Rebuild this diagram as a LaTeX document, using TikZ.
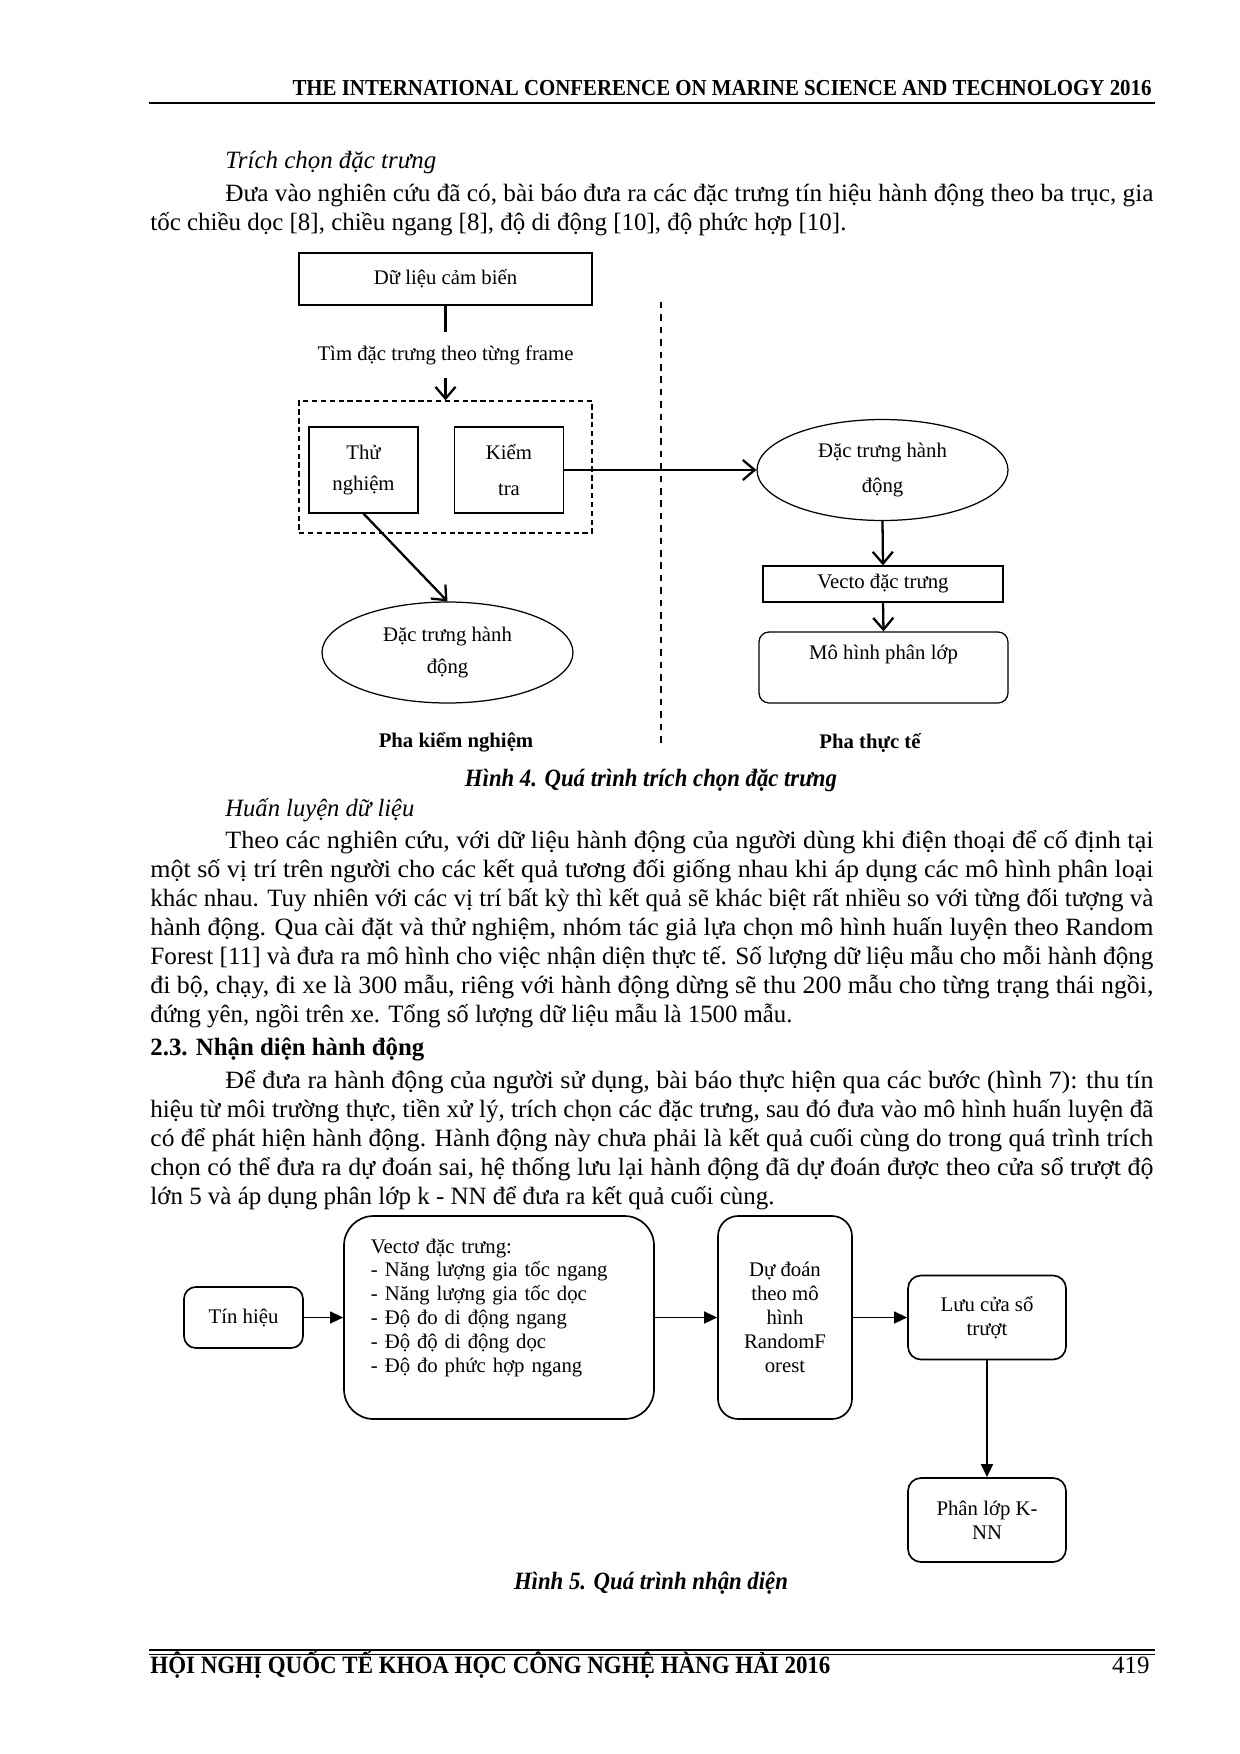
\documentclass[tikz,border=0pt]{standalone}
\usepackage{fontspec}
\setmainfont{Liberation Serif}
\usepackage{graphicx}
\usetikzlibrary{arrows.meta,shapes.geometric}

\tikzset{
  body/.style={anchor=base west,inner sep=0pt,font=\fontsize{12}{14}\selectfont},
  figtxt/.style={font=\fontsize{10}{15}\selectfont,align=center},
  plainbox/.style={draw,line width=0.6pt,inner sep=0pt,figtxt},
  grpbox/.style={draw,dash pattern=on 0.9mm off 0.6mm,line width=0.6pt,inner sep=0pt},
  oval/.style={draw,ellipse,line width=0.6pt,inner sep=0pt,figtxt},
  divider/.style={line width=1.1pt,dash pattern=on 1.1mm off 1mm},
  barb/.style={line width=1.1pt,-{Straight Barb[length=2mm,width=3.4mm]}},
  roundbox/.style={draw,line width=0.8pt,inner sep=0pt,align=center,font=\fontsize{10}{11.5}\selectfont},
  tri/.style={line width=0.9pt,-{Triangle[length=2.2mm,width=2mm]}},
}
\newcommand{\fitw}[2]{\resizebox{#1}{\height}{#2}}

\begin{document}
\begin{tikzpicture}[x=0.169355mm,y=-0.169355mm]
\fill[white] (0,0) rectangle (1240,1754);
\useasboundingbox (0,0) rectangle (1240,1754);

\node[anchor=base east,inner sep=0pt,font=\fontsize{11}{13}\selectfont\bfseries] (head) at (1152,95.5)
  {\fitw{145.48mm}{THE INTERNATIONAL CONFERENCE ON MARINE SCIENCE AND TECHNOLOGY 2016}};
\draw[line width=1pt] (149,103) -- (1155,103);

\node[body] (t1) at (225,168) {\fitw{35.73mm}{\itshape Trích chọn đặc trưng}};
\node[body] (t2) at (225,201.5) {\fitw{157.16mm}{Đưa vào nghiên cứu đã có, bài báo đưa ra các đặc trưng tín hiệu hành động theo ba trục, gia}};
\node[body] (t3) at (150,230.6) {\fitw{117.87mm}{tốc chiều dọc [8], chiều ngang [8], độ di động [10], độ phức hợp [10].}};

\node[plainbox,minimum width=49.62mm,minimum height=8.81mm] (data) at (445.5,279) {Dữ liệu cảm biến};
\node[figtxt,inner sep=0pt,minimum height=7.79mm] (find) at (445.5,355) {Tìm đặc trưng theo từng frame};
\node[grpbox,minimum width=49.62mm,minimum height=22.35mm] (grp) at (445.5,467) {};
\node[plainbox,minimum width=18.46mm,minimum height=14.56mm] (try) at (363.5,470) {Thử\\nghiệm};
\node[plainbox,minimum width=18.46mm,minimum height=14.56mm,font=\fontsize{10}{17}\selectfont] (test) at (509,470) {Kiểm\\tra};
\node[oval,minimum width=42.51mm,minimum height=17.1mm] (feata) at (447.5,652.5) {Đặc trưng hành\\động};
\node[oval,minimum width=42.51mm,minimum height=17.1mm,font=\fontsize{10}{17}\selectfont] (featb) at (882.5,470) {Đặc trưng hành\\động};
\node[plainbox,minimum width=40.65mm,minimum height=6.1mm] (vec) at (883,584) {Vecto đặc trưng};
\node[plainbox,rounded corners=1.7mm,minimum width=42.17mm,minimum height=12.02mm] (model) at (883.5,667.5) {Mô hình phân lớp\\\mbox{}};
\node[figtxt,font=\fontsize{10}{12}\selectfont\bfseries] (phaa) at (456,742) {Pha kiểm nghiệm};
\node[figtxt,font=\fontsize{10}{12}\selectfont\bfseries] (phab) at (870,743) {Pha thực tế};
\coordinate (divtop) at (661,302);
\coordinate (divbot) at (661,747);

\draw[line width=1.3pt] (data.south) -- (find.north);
\draw[barb] (find.south) -- (grp.north);
\draw[barb] (try.south) -- (feata.north);
\draw[barb] (test.east) -- (featb.west);
\draw[barb] (featb.south) -- (vec.north);
\draw[barb] (vec.south) -- (model.north);
\draw[divider] (divtop) -- (divbot);

\node[anchor=base,inner sep=0pt,font=\fontsize{12}{14}\selectfont\bfseries\itshape] (capa) at (651,786) {\fitw{63.0mm}{Hình 4. Quá trình trích chọn đặc trưng}};

\node[body] (t4) at (225,816.5) {\fitw{32.01mm}{\itshape Huấn luyện dữ liệu}};
\node[body] (t5) at (225,848) {\fitw{157.16mm}{Theo các nghiên cứu, với dữ liệu hành động của người dùng khi điện thoại để cố định tại}};
\node[body] (t6) at (150,877) {\fitw{169.86mm}{một số vị trí trên người cho các kết quả tương đối giống nhau khi áp dụng các mô hình phân loại}};
\node[body] (t7) at (150,906) {\fitw{169.86mm}{khác nhau. Tuy nhiên với các vị trí bất kỳ thì kết quả sẽ khác biệt rất nhiều so với từng đối tượng và}};
\node[body] (t8) at (150,935) {\fitw{169.86mm}{hành động. Qua cài đặt và thử nghiệm, nhóm tác giả lựa chọn mô hình huấn luyện theo Random}};
\node[body] (t9) at (150,964) {\fitw{169.86mm}{Forest [11] và đưa ra mô hình cho việc nhận diện thực tế. Số lượng dữ liệu mẫu cho mỗi hành động}};
\node[body] (t10) at (150,993) {\fitw{169.86mm}{đi bộ, chạy, đi xe là 300 mẫu, riêng với hành động dừng sẽ thu 200 mẫu cho từng trạng thái ngồi,}};
\node[body] (t11) at (150,1022) {\fitw{108.73mm}{đứng yên, ngồi trên xe. Tổng số lượng dữ liệu mẫu là 1500 mẫu.}};
\node[body] (t12) at (150,1055) {\fitw{46.40mm}{\bfseries 2.3. Nhận diện hành động}};
\node[body] (t13) at (225,1088) {\fitw{157.16mm}{Để đưa ra hành động của người sử dụng, bài báo thực hiện qua các bước (hình 7): thu tín}};
\node[body] (t14) at (150,1117) {\fitw{169.86mm}{hiệu từ môi trường thực, tiền xử lý, trích chọn các đặc trưng, sau đó đưa vào mô hình huấn luyện đã}};
\node[body] (t15) at (150,1146) {\fitw{169.86mm}{có để phát hiện hành động. Hành động này chưa phải là kết quả cuối cùng do trong quá trình trích}};
\node[body] (t16) at (150,1175) {\fitw{169.86mm}{chọn có thể đưa ra dự đoán sai, hệ thống lưu lại hành động đã dự đoán được theo cửa sổ trượt độ}};
\node[body] (t17) at (150,1204) {\fitw{105.68mm}{lớn 5 và áp dụng phân lớp k - NN để đưa ra kết quả cuối cùng.}};

\node[roundbox,rounded corners=2mm,minimum width=20.15mm,minimum height=10.33mm] (sig) at (243.5,1317.5) {Tín hiệu};
\node[roundbox,rounded corners=5mm,minimum width=52.5mm,minimum height=34.38mm,text width=43.36mm,inner xsep=4.57mm,align=left] (vecb) at (499,1317.5)
  {Vectơ đặc trưng:\\- Năng lượng gia tốc ngang\\- Năng lượng gia tốc dọc\\- Độ đo di động ngang\\- Độ độ di động dọc\\- Độ đo phức hợp ngang\\\mbox{}};
\node[roundbox,rounded corners=3.4mm,minimum width=22.69mm,minimum height=34.38mm] (pred) at (785,1317.5) {Dự đoán\\theo mô\\hình\\RandomF\\orest};
\node[roundbox,rounded corners=2.2mm,minimum width=26.76mm,minimum height=14.23mm] (win) at (987,1317.5) {Lưu cửa sổ\\trượt};
\node[roundbox,rounded corners=2.2mm,minimum width=26.76mm,minimum height=14.23mm] (knn) at (987,1520) {Phân lớp K-\\NN};

\draw[tri] (sig.east) -- (vecb.west);
\draw[tri] (vecb.east) -- (pred.west);
\draw[tri] (pred.east) -- (win.west);
\draw[tri] (win.south) -- (knn.north);

\node[anchor=base,inner sep=0pt,font=\fontsize{12}{14}\selectfont\bfseries\itshape] (capb) at (651,1589) {\fitw{46.4mm}{Hình 5. Quá trình nhận diện}};

\draw[line width=1pt] (149,1650) -- (1155,1650);
\draw[line width=0.5pt] (149,1654.5) -- (1155,1654.5);
\node[body,font=\fontsize{12}{14}\selectfont\bfseries] (foot) at (150,1673) {\fitw{115.16mm}{HỘI NGHỊ QUỐC TẾ KHOA HỌC CÔNG NGHỆ HÀNG HẢI 2016}};
\node[anchor=base east,inner sep=0pt,font=\fontsize{12}{14}\selectfont] (pgno) at (1150,1673) {419};
\end{tikzpicture}
\end{document}
